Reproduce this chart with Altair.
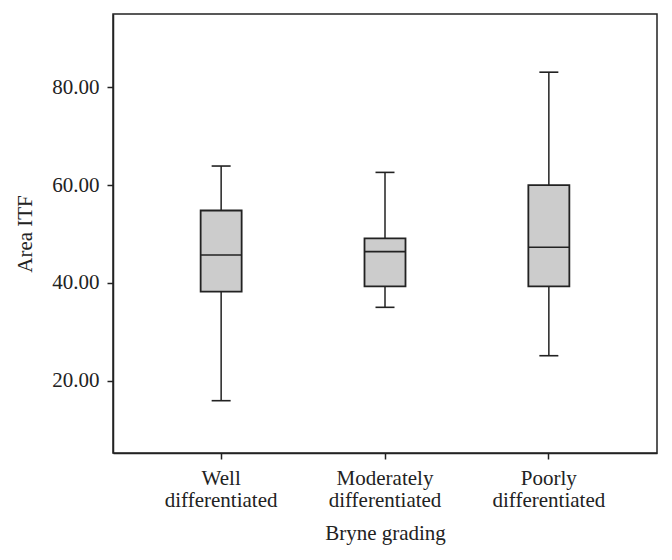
import altair as alt
import pandas as pd

categories = ["Well differentiated", "Moderately differentiated", "Poorly differentiated"]
whisker_low = [15.9, 35.0, 25.1]
q1 = [38.2, 39.3, 39.3]
median = [45.7, 46.4, 47.3]
q3 = [54.8, 49.1, 60.0]
whisker_high = [63.9, 62.6, 83.1]
y_ticks = [20, 40, 60, 80]

df = pd.DataFrame({
    "grade": categories,
    "lo": whisker_low,
    "q1": q1,
    "med": median,
    "q3": q3,
    "hi": whisker_high,
})

INK = "#222222"
FONT = "Liberation Serif"

xenc = alt.X(
    "grade:N",
    sort=categories,
    scale=alt.Scale(paddingInner=0, paddingOuter=0.16),
    axis=alt.Axis(
        title="Bryne grading",
        labelAngle=0,
        labelExpr="split(datum.label, ' ')",
        labelLineHeight=22,
        labelPadding=8,
        tickSize=6,
        titlePadding=12,
    ),
)

yscale = alt.Scale(domain=[5.2, 95.0], nice=False, zero=False)
yaxis = alt.Axis(
    title="Area ITF",
    values=y_ticks,
    format=".2f",
    tickSize=6,
    labelPadding=8,
    titlePadding=16,
    grid=False,
)


def Y(field):
    return alt.Y(field, type="quantitative", scale=yscale, axis=yaxis)


base = alt.Chart(df).encode(x=xenc)

whisker = base.mark_rule(color=INK, strokeWidth=1.5).encode(y=Y("lo"), y2="hi")
box = base.mark_bar(size=41, fill="#cccccc", stroke=INK, strokeWidth=1.8).encode(
    y=Y("q1"), y2="q3"
)
med = base.mark_tick(size=41, thickness=1.6, color=INK, opacity=1).encode(y=Y("med"))
cap_lo = base.mark_tick(size=19, thickness=1.6, color=INK, opacity=1).encode(y=Y("lo"))
cap_hi = base.mark_tick(size=19, thickness=1.6, color=INK, opacity=1).encode(y=Y("hi"))

chart = (
    alt.layer(whisker, box, med, cap_lo, cap_hi)
    .properties(width=544, height=439, padding={"left": 6, "top": 6, "right": 5, "bottom": 5})
    .configure_view(stroke=INK, strokeWidth=1.5)
    .configure_axis(
        domainColor=INK,
        domainWidth=1.5,
        tickColor=INK,
        tickWidth=1.5,
        labelFont=FONT,
        titleFont=FONT,
        labelFontSize=21,
        titleFontSize=21,
        titleFontWeight="normal",
        labelColor=INK,
        titleColor=INK,
    )
)

chart.save("out.html", embed_options={"renderer": "svg", "actions": False})
